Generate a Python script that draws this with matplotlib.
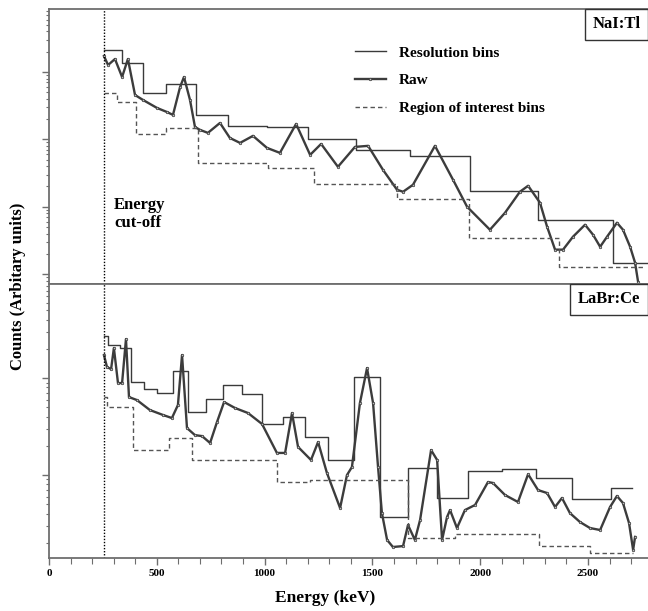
import matplotlib
matplotlib.use("Agg")
import matplotlib.pyplot as plt
from matplotlib.ticker import MultipleLocator, LogLocator, NullFormatter

plt.rcParams['font.family'] = ['Liberation Serif', 'DejaVu Serif']
plt.rcParams['font.weight'] = 'bold'

cutoff = 255  # keV

# ---- NaI:Tl (top) ----
nai_raw_e = [255, 274, 306, 339, 366, 399, 436, 501, 547, 575, 608, 626, 654, 677, 700,
             737, 793, 839, 886, 946, 1011, 1071, 1146, 1211, 1262, 1340, 1419, 1480, 1549, 1614,
             1642, 1688, 1790, 1874, 1939, 2045, 2115, 2184, 2222, 2277, 2310, 2347, 2384, 2430, 2486,
             2523, 2556, 2588, 2634, 2662, 2695, 2718, 2732]
nai_raw_c = [17260, 12700, 15600, 8440, 15600, 4560, 3850, 2930, 2550, 2310, 5990, 8440, 3850, 1530, 1385,
             1250, 1755, 1050, 887, 1128, 748, 631, 1698, 589, 857, 392, 774, 802, 353, 179,
             167, 212, 802, 251, 100, 45.6, 81.5, 167, 205, 115, 50.6, 23.1, 23.1, 35.9, 54.1,
             38.5, 25.5, 35.9, 57.9, 45.6, 25.5, 14.8, 7.7]
nai_res_edges = [255, 339, 436, 543, 682, 830, 1011, 1201, 1424, 1674, 1953, 2268, 2616, 2778]
nai_res_c = [21200, 13600, 4890, 6640, 2310, 1585, 1530, 1020, 699, 570, 173, 64, 14.8]
nai_roi_edges = [255, 315, 404, 543, 691, 1016, 1229, 1614, 1948, 2365, 2755]
nai_roi_c = [4890, 3590, 1205, 1480, 449, 378, 219, 131, 34.8, 12.9]

# ---- LaBr:Ce (bottom) ----
labr_raw_e = [255, 269, 288, 301, 320, 339, 357, 371, 408, 468, 529, 570, 598, 617, 640,
              677, 710, 747, 779, 812, 863, 923, 988, 1057, 1095, 1127, 1155, 1215, 1248, 1289,
              1350, 1382, 1405, 1442, 1475, 1503, 1526, 1544, 1568, 1595, 1642, 1665, 1697, 1721, 1772,
              1800, 1823, 1846, 1860, 1892, 1929, 1976, 2036, 2059, 2115, 2175, 2222, 2268, 2310, 2347,
              2379, 2416, 2463, 2509, 2556, 2602, 2634, 2662, 2690, 2709, 2718]
labr_raw_c = [1726, 1298, 1238, 2040, 888, 888, 2523, 637, 593, 468, 416, 387, 527, 1726, 305,
              258, 252, 214, 351, 566, 491, 436, 336, 169, 169, 436, 195, 143, 219, 105,
              45.7, 100, 121, 552, 1268, 552, 121, 40.5, 21.4, 18.1, 18.5, 30.5, 21.4, 34.4, 181,
              143, 21.4, 36.9, 43.5, 28.4, 43.5, 49.1, 84.7, 82.8, 62.2, 52.7, 102, 70, 65.2, 46.8,
              58, 40.5, 32.7, 28.4, 27.1, 46.8, 60.8, 51.4, 32, 16.9, 23]
labr_res_edges = [255, 274, 329, 380, 441, 501, 575, 645, 728, 807, 895, 988, 1085, 1187,
                  1294, 1415, 1535, 1665, 1800, 1943, 2101, 2259, 2426, 2607, 2704]
labr_res_c = [2710, 2190, 2040, 910, 771, 699, 1181, 446, 608, 847, 684, 336, 396, 247,
              143, 1024, 36.9, 118, 58, 110, 115, 93, 56.6, 73.5]
labr_roi_edges = [255, 269, 390, 557, 663, 1057, 1211, 1665, 1883, 2273, 2509, 2709]
labr_roi_c = [637, 502, 181, 240, 143, 84.7, 88.7, 22.4, 24.7, 18.5, 15.7]

spine_col = '#6e6e6e'
fig = plt.figure(figsize=(6.48, 6.11), dpi=100)
ax1 = fig.add_axes([0.0756, 0.535, 0.9244, 0.450])
ax2 = fig.add_axes([0.0756, 0.0867, 0.9244, 0.4483])


def draw(ax, raw_e, raw_c, res_edges, res_c, roi_edges, roi_c):
    ax.step(res_edges, res_c + [res_c[-1]], where='post', color='#3a3a3a', lw=1.0,
            label='Resolution bins')
    ax.plot(raw_e, raw_c, color='#3c3c3c', lw=1.7, marker='o', ms=1.8, mfc='#bbbbbb',
            mec='#333333', mew=0.5, label='Raw')
    ax.step(roi_edges, roi_c + [roi_c[-1]], where='post', color='#555555', lw=1.0,
            dashes=(3.2, 2.2), label='Region of interest bins')
    ax.axvline(cutoff, color='black', lw=1.0, ls=(0, (1, 1.2)))
    ax.set_yscale('log')
    ax.set_xlim(0, 2778)
    ax.yaxis.set_major_locator(LogLocator(base=10))
    ax.yaxis.set_minor_locator(LogLocator(base=10, subs=range(2, 10)))
    ax.yaxis.set_major_formatter(NullFormatter())
    ax.yaxis.set_minor_formatter(NullFormatter())
    ax.tick_params(axis='y', which='major', direction='out', length=5, width=1, color=spine_col)
    ax.tick_params(axis='y', which='minor', direction='out', length=2.5, width=0.8, color=spine_col)
    for s in ['left', 'top', 'bottom']:
        ax.spines[s].set_color(spine_col)
        ax.spines[s].set_linewidth(1.3)
    ax.spines['right'].set_visible(False)


draw(ax1, nai_raw_e, nai_raw_c, nai_res_edges, nai_res_c, nai_roi_edges, nai_roi_c)
draw(ax2, labr_raw_e, labr_raw_c, labr_res_edges, labr_res_c, labr_roi_edges, labr_roi_c)

ax1.set_ylim(10 ** 0.852, 10 ** 4.933)
ax2.set_ylim(10 ** 1.144, 10 ** 3.969)

ax1.tick_params(axis='x', which='both', bottom=False, labelbottom=False)
ax2.xaxis.set_major_locator(MultipleLocator(500))
ax2.xaxis.set_minor_locator(MultipleLocator(100))
ax2.tick_params(axis='x', which='major', direction='out', length=5, width=1, color=spine_col,
                labelsize=8, pad=3)
ax2.tick_params(axis='x', which='minor', direction='out', length=4, width=0.8, color=spine_col)
for lab in ax2.get_xticklabels():
    lab.set_fontweight('bold')

ax1.legend(loc='upper left', bbox_to_anchor=(0.511, 0.866), frameon=False, fontsize=11,
           handlelength=2.0, handletextpad=0.85, labelspacing=0.92, borderpad=0,
           borderaxespad=0, numpoints=1)

box = dict(boxstyle='square,pad=0.45', fc='white', ec='#333333', lw=1.0)
ax1.text(0.948, 0.945, 'NaI:Tl', transform=ax1.transAxes, ha='center', va='center',
         fontsize=12, bbox=box)
ax2.text(0.935, 0.945, 'LaBr:Ce', transform=ax2.transAxes, ha='center', va='center',
         fontsize=12, bbox=box)

ax1.text(301, 10 ** 1.89, 'Energy\ncut-off', ha='left', va='center', fontsize=12,
         linespacing=1.15, multialignment='left')

fig.text(0.028, 0.532, 'Counts (Arbitary units)', rotation=90, ha='center', va='center',
         fontsize=12)
fig.text(0.502, 0.021, 'Energy (keV)', ha='center', va='center', fontsize=12.5)

fig.savefig('out.png', dpi=100)
